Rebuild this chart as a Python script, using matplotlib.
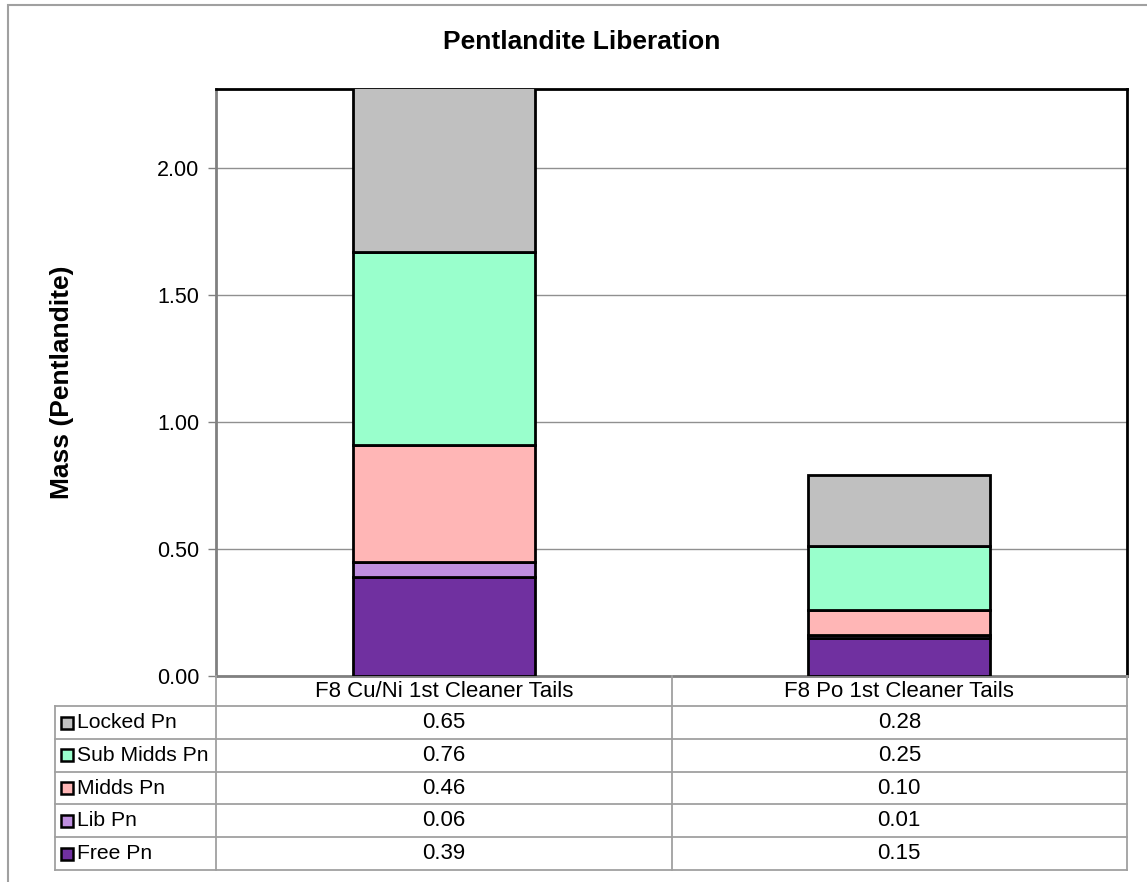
import matplotlib.pyplot as plt
import numpy as np
from matplotlib.patches import Rectangle

categories = ["F8 Cu/Ni 1st Cleaner Tails", "F8 Po 1st Cleaner Tails"]
# bottom to top stacking order
series = ["Free Pn", "Lib Pn", "Midds Pn", "Sub Midds Pn", "Locked Pn"]
free_pn = [0.39, 0.15]
lib_pn = [0.06, 0.01]
midds_pn = [0.46, 0.10]
sub_midds_pn = [0.76, 0.25]
locked_pn = [0.65, 0.28]
colors = ["#7030A0", "#BF8FDF", "#FFB6B6", "#99FFCC", "#C0C0C0"]

values = [free_pn, lib_pn, midds_pn, sub_midds_pn, locked_pn]

plt.rcParams["font.family"] = ["Liberation Sans", "DejaVu Sans"]

W, H = 1147, 882
fig = plt.figure(figsize=(W / 100, H / 100), dpi=100)

# figure border
fig.add_artist(Rectangle((8 / W, -0.01), 1.0, 1 - 5 / H + 0.01, transform=fig.transFigure,
                         fill=False, edgecolor="#A0A0A0", linewidth=1.5))

left, right, top, bottom = 216, 1127, 89, 676
ax = fig.add_axes([left / W, 1 - bottom / H, (right - left) / W, (bottom - top) / H])

x = np.arange(len(categories))
base = np.zeros(len(categories))
for name, vals, c in zip(series, values, colors):
    ax.bar(x, vals, width=0.4, bottom=base, color=c, edgecolor="black", linewidth=2, zorder=3)
    base += np.array(vals)

ax.set_xlim(-0.5, len(categories) - 0.5)
ax.set_ylim(0, 2.31)
yt = np.arange(0, 2.01, 0.5)
ax.set_yticks(yt)
ax.set_yticklabels([f"{v:.2f}" for v in yt], fontsize=15.5)
ax.set_xticks([])
ax.tick_params(axis="y", length=6, width=1, color="#808080", pad=6)
ax.grid(axis="y", color="#909090", linewidth=1, zorder=0)
for s in ["top", "right"]:
    ax.spines[s].set_color("black")
    ax.spines[s].set_linewidth(2)
for s in ["left", "bottom"]:
    ax.spines[s].set_color("#808080")
    ax.spines[s].set_linewidth(2)

ax.set_ylabel("Mass (Pentlandite)", fontsize=19, fontweight="bold")
ax.yaxis.set_label_coords((74 - left) / (right - left), 0.5)
fig.text(582 / W, 1 - 42 / H, "Pentlandite Liberation", ha="center", va="center",
         fontsize=19, fontweight="bold")

# data table below the plot, drawn in its own axes
tab_left, tab_bottom = 55, 870
tax = fig.add_axes([tab_left / W, 1 - tab_bottom / H, (right - tab_left) / W, (tab_bottom - bottom) / H])
label_w = (left - tab_left) / (right - left)   # label column width in units of plot width
n = len(series)
hdr = 0.92                                      # header row height relative to data rows
tax.set_xlim(-label_w, 1)
tax.set_ylim(n + hdr, 0)
tax.axis("off")
grid_kw = dict(color="#A0A0A0", linewidth=1.3, clip_on=False)

# header row
for j, cat in enumerate(categories):
    tax.text((j + 0.5) / len(categories), hdr / 2, cat, ha="center", va="center", fontsize=16)
tax.plot([0.5, 0.5], [0, n + hdr], **grid_kw)
tax.plot([1, 1], [0, n + hdr], **grid_kw)
tax.plot([0, 0], [0, n + hdr], **grid_kw)
tax.plot([-label_w, -label_w], [hdr, n + hdr], **grid_kw)

row_names = series[::-1]
row_vals = values[::-1]
row_cols = colors[::-1]
for i, (name, vals, c) in enumerate(zip(row_names, row_vals, row_cols)):
    y0 = hdr + i
    tax.plot([-label_w, 1], [y0, y0], **grid_kw)
    tax.plot([-label_w + 0.0135], [y0 + 0.5], marker="s", markersize=8.5, markerfacecolor=c,
             markeredgecolor="black", markeredgewidth=1.8, clip_on=False)
    tax.text(-label_w + 0.0245, y0 + 0.5, name, ha="left", va="center", fontsize=15.2)
    for j, v in enumerate(vals):
        tax.text((j + 0.5) / len(categories), y0 + 0.5, f"{v:.2f}", ha="center", va="center", fontsize=16)
tax.plot([-label_w, 1], [n + hdr, n + hdr], **grid_kw)

fig.savefig("out.png", dpi=100)
